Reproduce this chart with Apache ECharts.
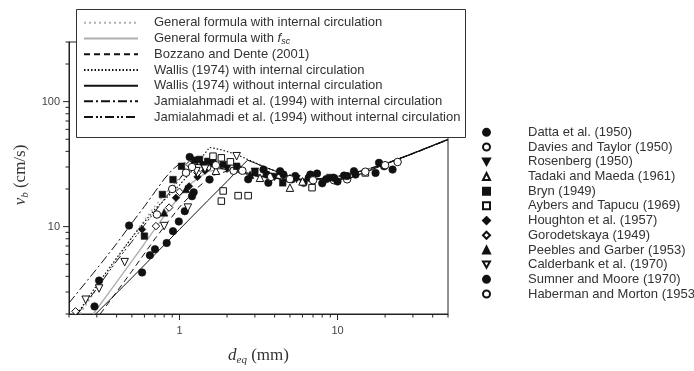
<!DOCTYPE html>
<html><head><meta charset="utf-8">
<script src="https://cdn.jsdelivr.net/npm/echarts@6/dist/echarts.min.js"></script>
<style>html,body{margin:0;padding:0;background:#fff}#c{width:694px;height:371px}</style>
</head><body><div id="c"></div>
<script>
// axis ranges and ticks
const xMin = 0.2, xMax = 50, yMin = 2, yMax = 300;
const xMajorTicks = [1, 10];
const xMinorTicks = [0.2,0.3,0.4,0.5,0.6,0.7,0.8,0.9,2,3,4,5,6,7,8,9,20,30,40,50];
const yMajorTicks = [10, 100];
const yMinorTicks = [2,3,4,5,6,7,8,9,20,30,40,50,60,70,80,90,200,300];

// model curves [d_eq (mm), v_b (cm/s)]
const generalIC = [[0.235,2],[0.3,3.2],[0.4,5.5],[0.5,8.2],[0.6,11.3],[0.7,14.6],[0.8,18],[1.0,24.5],[1.2,30],[1.4,32.8],[1.6,33],[2.0,30.5],[2.5,27.8],[3,26],[4,24.4],[5,23.7],[7,23.8],[10,25.2],[15,28.5],[20,31.8],[30,38.5],[50,49.8]];
const generalFsc = [[0.285,2],[0.4,3.6],[0.5,5.3],[0.6,7.3],[0.7,9.6],[0.8,12.2],[1.0,17.5],[1.2,22.5],[1.5,27.5],[1.8,29],[2.2,28.3],[3,26],[4,24.4],[5,23.7],[7,23.8],[10,25.2],[15,28.5],[20,31.8],[30,38.5],[50,49.8]];
const bozzano = [[0.315,2],[0.4,3],[0.5,4.4],[0.7,8],[0.85,11],[1.0,14.3],[1.3,20.5],[1.6,25.5],[2.0,27.8],[2.5,27.3],[3,26.2],[4,24.6],[5,23.8],[7,23.8],[10,25.3],[15,28.5],[20,31.8],[30,38.3],[50,49.5]];
const wallisIC = [[0.225,2],[0.3,3.4],[0.4,5.6],[0.5,8.2],[0.7,13.8],[1.0,21.5],[1.2,28],[1.4,36.5],[1.55,43],[1.8,41.5],[2.3,37.8],[3,32.5],[3.5,29.8],[4.5,26.5],[5.5,24],[8,24],[11.6,24],[20,31.5],[30,38.6],[50,49.8]];
const wallisNo = [[0.295,2],[0.5,3.9],[0.7,6],[1.0,9.5],[1.5,16],[2.0,23],[2.35,28.5],[2.5,31],[2.7,34],[3,32.3],[3.5,29.8],[4.5,26.5],[5.5,24],[8,24],[11.6,24],[20,31.5],[30,38.6],[50,49.8]];
const jamiIC = [[0.2,2.45],[0.3,4.6],[0.4,7.3],[0.5,10.7],[0.6,14.5],[0.7,19],[0.8,24],[0.9,28.5],[1.0,31.8],[1.2,33],[1.5,31],[2,28.5],[3,25.5],[5,23.6],[7,23.8],[10,25.2],[15,28.3],[20,31.8],[30,38.4],[50,49.8]];
const jamiNo = [[0.227,2],[0.3,3.2],[0.4,5.3],[0.5,7.6],[0.6,10.3],[0.7,13.2],[0.8,16.5],[0.9,20],[1.0,24],[1.1,28],[1.25,31.5],[1.5,31],[2,28.5],[3,25.5],[5,23.6],[7,23.8],[10,25.2],[15,28.3],[20,31.8],[30,38.4],[50,49.8]];

// experimental data [d_eq (mm), v_b (cm/s)]
const datta = [[0.29,2.3],[0.31,3.7],[0.48,10.2],[0.58,4.3],[0.65,5.9],[0.70,6.6],[0.83,7.4],[0.91,9.2],[0.99,11],[1.08,13.3],[1.2,17.5],[1.23,18.8],[1.16,36.1],[1.55,23.8],[2.72,23.9],[3.4,28.6],[3.57,26.1],[3.65,22.4],[4.33,27.8],[4.55,26.1],[5.14,23.9],[5.4,25.4],[6.1,22.4],[6.57,24.6],[6.73,26.1],[7.42,26.6],[8,22.2]];
const davies = [[0.72,12.5],[0.9,20],[1.1,27],[1.5,30],[2.2,28],[3.8,25],[9.5,23.5],[11.5,23.9],[24,32.9]];
const rosenberg = [[1.4,31],[2,29],[3,27.5],[4,25],[5.5,24],[9,24.5]];
const tadaki = [[1.7,28],[3.23,24.6],[5.0,20.5],[6,23]];
const bryn = [[0.6,8.4],[0.78,18.1],[0.91,23.8],[1.03,30.4],[1.25,34],[1.34,34.5],[1.51,33.3],[1.63,32.4],[1.89,31.4],[2.3,30.4],[3,27],[4.5,22.4]];
const aybers = [[1.63,36.6],[1.84,35.5],[2.1,33],[1.89,19.3],[1.84,16],[2.35,17.7],[2.72,17.7],[6.9,20.5],[15,26.9]];
const houghton = [[0.58,9.5],[0.95,17],[1.15,21],[1.3,25],[1.45,28],[2.4,29]];
const gorodetskaya = [[0.22,2.1],[0.71,10.1],[0.86,14.2],[1.0,19],[1.16,31.4],[1.3,27]];
const peebles = [[0.8,13],[1.1,20],[2.8,26],[5,24.5]];
const calderbank = [[0.255,2.6],[0.31,3.2],[0.45,5.2],[0.8,10.1],[1.13,14.2],[1.28,27.8],[2.3,36.6],[1.45,29]];
const sumner = [[8.5,24],[9.48,24.6],[10,23],[10.99,25.6],[11.5,25.4],[12.7,27.8],[13,26.1],[17.4,26.9],[18.3,32.4],[19.7,30.4],[22.3,28.6]];
const haberman = [[1.2,30],[1.7,31],[2.5,28],[5,24],[7,23.5],[15,27.5],[20,31]];

const lineNames = ['General formula with internal circulation','General formula with fsc','Bozzano and Dente (2001)','Wallis (1974) with internal circulation','Wallis (1974) without internal circulation','Jamialahmadi et al. (1994) with internal circulation','Jamialahmadi et al. (1994) without internal circulation'];
const pointNames = ['Datta et al. (1950)','Davies and Taylor (1950)','Rosenberg (1950)','Tadaki and Maeda (1961)','Bryn (1949)','Aybers and Tapucu (1969)','Houghton et al. (1957)','Gorodetskaya (1949)','Peebles and Garber (1953)','Calderbank et al. (1970)','Sumner and Moore (1970)','Haberman and Morton (1953)'];

const DARK = '#111', GRAY = '#b0b0b0';
const DOWN = 'path://M0,0L10,0L5,9Z';
const lineData = [generalIC, generalFsc, bozzano, wallisIC, wallisNo, jamiIC, jamiNo];
const lineStyles = [
  {color: GRAY, width: 1.4, type: [2, 3]},
  {color: GRAY, width: 1.4, type: 'solid'},
  {color: DARK, width: 1, type: [6, 4]},
  {color: DARK, width: 1.2, type: [1.5, 2]},
  {color: DARK, width: 1, type: 'solid'},
  {color: DARK, width: 1, type: [9, 3, 2, 3]},
  {color: DARK, width: 1, type: [9, 3, 2, 2, 2, 3]}
];
const pointData = [datta, davies, rosenberg, tadaki, bryn, aybers, houghton, gorodetskaya, peebles, calderbank, sumner, haberman];
const pointSyms = [
  ['circle', true], ['circle', false], [DOWN, true], ['triangle', false],
  ['rect', true], ['rect', false], ['diamond', true], ['diamond', false],
  ['triangle', true], [DOWN, false], ['circle', true], ['circle', false]
];

const series = [];
lineData.forEach((d, i) => {
  series.push({
    name: lineNames[i], type: 'line', data: d, symbol: 'none', smooth: false,
    lineStyle: lineStyles[i], itemStyle: {color: lineStyles[i].color},
    z: 2, silent: true, animation: false
  });
});
pointData.forEach((d, i) => {
  const [sym, filled] = pointSyms[i];
  series.push({
    name: pointNames[i], type: 'scatter', data: d, symbol: sym,
    symbolSize: sym === 'rect' ? 6.5 : 7.5,
    itemStyle: filled ? {color: DARK, borderColor: DARK, borderWidth: 0.6, opacity: 1}
                      : {color: '#fff', borderColor: DARK, borderWidth: 1, opacity: 1},
    z: 3, animation: false
  });
});
// tick marks drawn through the axes' own scales
function tickSeries(items, isX) {
  return {
    type: 'custom', silent: true, animation: false, z: 1, clip: false,
    data: items,
    renderItem: function (params, api) {
      const p = api.coord([api.value(0), api.value(1)]);
      const len = api.value(2);
      return {type: 'line', shape: isX ? {x1: p[0], y1: p[1], x2: p[0], y2: p[1] + len}
                                        : {x1: p[0], y1: p[1], x2: p[0] - len, y2: p[1]},
              style: {stroke: '#222', lineWidth: 1}};
    }
  };
}
const xTickItems = xMajorTicks.map(v => [v, yMin, 6]).concat(xMinorTicks.map(v => [v, yMin, 3.5]));
const yTickItems = yMajorTicks.map(v => [xMin, v, 6]).concat(yMinorTicks.map(v => [xMin, v, 3.5]));
series.push(tickSeries(xTickItems, true));
series.push(tickSeries(yTickItems, false));

function isPow10(v) { const l = Math.log10(v); return Math.abs(l - Math.round(l)) < 1e-6; }

const serifRich = {
  i: {fontFamily: 'Liberation Serif', fontStyle: 'italic', fontSize: 17, color: '#333'},
  s: {fontFamily: 'Liberation Serif', fontStyle: 'italic', fontSize: 11, color: '#333', verticalAlign: 'bottom', padding: [9, 0, 0, 0]},
  n: {fontFamily: 'Liberation Serif', fontSize: 17, color: '#333'}
};

const option = {
  backgroundColor: '#fff',
  animation: false,
  grid: {left: 69, right: 246, top: 42, bottom: 56, show: true, borderColor: '#222', borderWidth: 1},
  xAxis: {
    type: 'log', logBase: 10, min: xMin, max: xMax,
    axisLine: {show: true, lineStyle: {color: '#222', width: 1}},
    axisTick: {show: false}, splitLine: {show: false}, minorTick: {show: false},
    axisLabel: {color: '#444', fontFamily: 'Liberation Sans', fontSize: 11, margin: 11,
      formatter: v => (isPow10(v) && v >= 1 ? String(Math.round(v)) : '')},
    name: '{i|d}{s|eq}{n| (mm)}', nameLocation: 'middle', nameGap: 32,
    nameTextStyle: {fontFamily: 'Liberation Serif', color: '#333', rich: serifRich}
  },
  yAxis: {
    type: 'log', logBase: 10, min: yMin, max: yMax,
    axisLine: {show: true, lineStyle: {color: '#222', width: 1}},
    axisTick: {show: false}, splitLine: {show: false}, minorTick: {show: false},
    axisLabel: {color: '#444', fontFamily: 'Liberation Sans', fontSize: 11, margin: 9,
      formatter: v => (isPow10(v) ? String(Math.round(v)) : '')},
    name: '{i|v}{s|b}{n| (cm/s)}', nameLocation: 'middle', nameGap: 38, nameRotate: 90,
    nameTextStyle: {fontFamily: 'Liberation Serif', color: '#333', rich: serifRich, padding: [0, 0, 0, 6]}
  },
  graphic: [{type: 'rect', left: 76, top: 9, shape: {width: 389, height: 128}, z: 10,
    style: {fill: '#fff', stroke: '#333', lineWidth: 1}}],
  legend: [
    {data: lineNames, orient: 'vertical', left: 83, top: 15, z: 11, padding: 0,
      itemWidth: 54, itemHeight: 14, itemGap: 0, selectedMode: false,
      itemStyle: {opacity: 0},
      textStyle: {fontFamily: 'Liberation Sans', fontSize: 13, color: '#333', lineHeight: 15.7, padding: [0, 0, 0, 11],
        rich: {i: {fontStyle: 'italic', fontSize: 13, color: '#333', fontFamily: 'Liberation Sans', lineHeight: 15.7},
               s: {fontStyle: 'italic', fontSize: 9, color: '#333', fontFamily: 'Liberation Sans', verticalAlign: 'bottom', lineHeight: 11}}},
      formatter: n => n === 'General formula with fsc' ? 'General formula with {i|f}{s|sc}' : n},
    {data: pointNames, orient: 'vertical', left: 482, top: 125, z: 11, padding: 0,
      itemWidth: 7, itemHeight: 7, itemGap: 0, selectedMode: false,
      textStyle: {fontFamily: 'Liberation Sans', fontSize: 13, color: '#333', lineHeight: 14.7, padding: [0, 0, 0, 33]}}
  ],
  series: series
};
const chart = echarts.init(document.getElementById('c'), null, {renderer: 'canvas'});
chart.setOption(option);
</script></body></html>
